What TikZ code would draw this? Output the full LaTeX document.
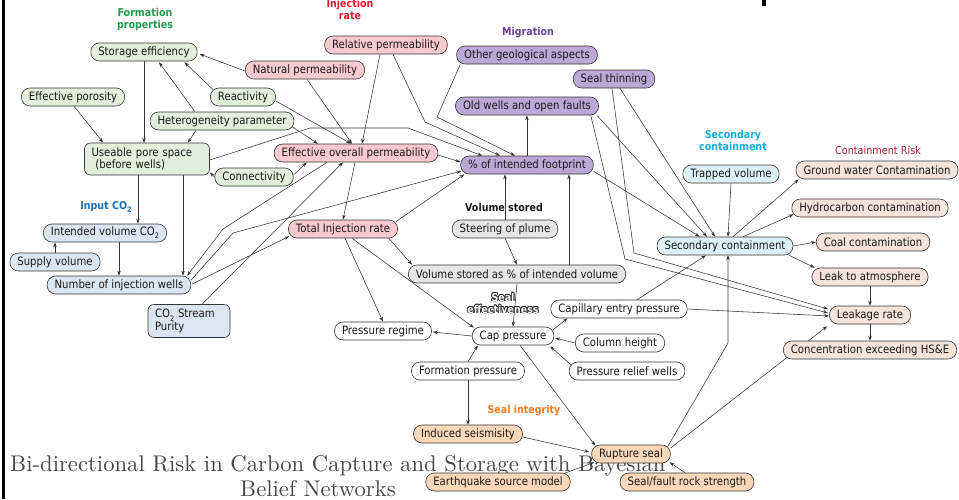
\documentclass[tikz,border=0pt]{standalone}
\usepackage{fontspec}
\usepackage{graphicx}
\usetikzlibrary{arrows.meta,calc,backgrounds}
\newfontfamily\nf[FakeStretch=0.88]{DejaVu Sans}
\newcommand\nodefont{\nf\fontsize{11.5}{12.5}\selectfont}
\newcommand\labfont{\nf\bfseries\fontsize{10.8}{12}\selectfont}
\newcommand\labfontr{\nf\fontsize{11}{12}\selectfont}
\newcommand\subtwo{\raisebox{-0.28em}{\fontsize{7.5}{8}\selectfont 2}}
\definecolor{cform}{HTML}{E2EFDA}
\definecolor{cinj}{HTML}{F8C9CF}
\definecolor{cmig}{HTML}{BCA8D8}
\definecolor{cinp}{HTML}{DCE6F2}
\definecolor{csec}{HTML}{DDF2F8}
\definecolor{cvol}{HTML}{E6E6E6}
\definecolor{crisk}{HTML}{F6E3DA}
\definecolor{cint}{HTML}{FAD7B8}
\definecolor{tform}{HTML}{1BA04C}
\definecolor{tinj}{HTML}{E5182E}
\definecolor{tmig}{HTML}{6B3E9B}
\definecolor{tsec}{HTML}{14AEE0}
\definecolor{tinp}{HTML}{1F6FB2}
\definecolor{tint}{HTML}{F47B20}
\definecolor{trisk}{HTML}{A32638}
\tikzset{
  base/.style={draw=black!80, line width=0.6pt, rounded corners=8.5pt, minimum height=18pt, inner xsep=7.5pt, inner ysep=0pt, font=\nodefont, text=black!90},
  sform/.style={base, fill=cform},
  sinj/.style={base, fill=cinj},
  smig/.style={base, fill=cmig},
  sinput/.style={base, fill=cinp},
  ssec/.style={base, fill=csec},
  svol/.style={base, fill=cvol},
  sseal/.style={base, fill=white},
  sint/.style={base, fill=cint},
  srisk/.style={base, fill=crisk},
  lab/.style={font=\labfont, inner sep=0pt, align=center},
  edg/.style={draw=black!80, line width=0.55pt, -{Stealth[length=5pt,width=3.4pt]}},
}
\begin{document}
\begin{tikzpicture}[x=1pt,y=-1pt]
\useasboundingbox (0,0) rectangle (959,499);
\fill[black] (2,0) rectangle (5,499);
\fill[black] (762,0) rectangle (766,6);

% ---------- nodes
\node[sform] (se) at (144,52) {Storage efficiency};
\node[sform] (ep) at (73,97) {Effective porosity};
\node[sform] (re) at (243,97) {Reactivity};
\node[sform] (hp) at (222,121) {Heterogeneity parameter};
\node[sform, rounded corners=6pt, minimum height=32pt, align=left, text width=111pt, inner xsep=7pt] (ups) at (147,159) {Useable pore space\\\ (before wells)};
\node[sform] (co) at (254,177) {Connectivity};

\node[sinj] (np) at (305,70) {Natural permeability};
\node[sinj] (rp) at (386,45) {Relative permeability};
\node[sinj] (eop) at (356,153) {Effective overall permeability};
\node[sinj] (tir) at (343,229) {Total Injection rate};

\node[smig] (oga) at (527,55) {Other geological aspects};
\node[smig] (st) at (614,79) {Seal thinning};
\node[smig] (ow) at (527,106) {Old wells and open faults};
\node[smig] (pif) at (527,165) {\% of intended footprint};

\node[svol] (sp) at (505,229) {Steering of plume};
\node[svol] (vs) at (517,274) {Volume stored as \% of intended volume};

\node[sseal] (cep) at (619,309) {Capillary entry pressure};
\node[sseal] (pr) at (383,331) {Pressure regime};
\node[sseal] (cp) at (513,336) {Cap pressure};
\node[sseal] (ch) at (620,343) {Column height};
\node[sseal] (fp) at (468,371) {Formation pressure};
\node[sseal] (prw) at (627,371) {Pressure relief wells};

\node[sint] (is) at (468,434) {Induced seismisity};
\node[sint] (rs) at (631,454) {Rupture seal};
\node[sint] (esm) at (498,482) {Earthquake source model};
\node[sint] (sfr) at (687,482) {Seal/fault rock strength};

\node[ssec] (tv) at (731,174) {Trapped volume};
\node[ssec] (sc) at (725,246) {Secondary containment};

\node[srisk] (gw) at (877,170) {Ground water Contamination};
\node[srisk] (hc) at (870,208) {Hydrocarbon contamination};
\node[srisk] (cc) at (873,242) {Coal contamination};
\node[srisk] (la) at (870,277) {Leak to atmosphere};
\node[srisk] (lr) at (870,315) {Leakage rate};
\node[srisk] (ce) at (870,350) {Concentration exceeding HS\&E};

\node[sinput] (iv) at (105,233) {Intended volume CO\subtwo};
\node[sinput] (sv) at (55,262) {Supply volume};
\node[sinput] (niw) at (119,285) {Number of injection wells};
\node[sinput, rounded corners=6pt, minimum height=33pt, align=left, text width=68pt, inner xsep=7pt] (csp) at (189,321) {CO\subtwo\ Stream\\Purity};

% ---------- group labels
\node[lab, text=tform] (lform) at (145,20) {Formation\\properties};
\node[lab, text=tinj] (linj) at (350,9) {Injection\\rate};
\node[lab, text=tmig] (lmig) at (528,33) {Migration};
\node[lab, text=tsec] (lsec) at (733,140) {Secondary\\containment};
\node[lab, font=\labfontr, text=trisk] (lrisk) at (878,150) {Containment Risk};
\node[lab, text=tinp] (linp) at (106,207) {Input CO\subtwo};
\node[lab, text=black!90] (lvol) at (504,207) {Volume stored};
\node[lab, text=tint] (lint) at (524,411) {Seal integrity};
\foreach \dx/\dy [count=\k] in {-0.8/0,0.8/0,0/-0.8,0/0.8,-0.6/-0.6,0.6/0.6,-0.6/0.6,0.6/-0.6}
  \node[lab, text=black!85] (lseo\k) at ($(503,303)+(\dx,\dy)$) {Seal\\effectiveness};
\node[lab, text=white] (lse) at (503,303) {Seal\\effectiveness};

% ---------- background: title and connectors
\begin{pgfonlayer}{background}
\fill[white] (0,0) rectangle (959,499);
\fill[black] (2,0) rectangle (5,499);
\node[anchor=base west, inner sep=0pt, text=black!72] (t1) at (10,471) {\scalebox{2.27}{\rmfamily\fontsize{10}{12}\selectfont Bi-directional Risk in Carbon Capture and Storage with Bayesian}};
\node[anchor=base, inner sep=0pt, text=black!72] (t2) at (318,496) {\scalebox{2.27}{\rmfamily\fontsize{10}{12}\selectfont Belief Networks}};

% formation
\draw[edg] ($(np.west)+(0,1)$) -- ($(se.east)+(2,2)$);
\draw[edg] ($(re.north west)+(3,2)$) -- ($(se.south east)+(-13,1)$);
\draw[edg] ($(hp.north)+(-27,0)$) -- ($(se.south)+(15,1)$);
\draw[edg] (se.south) -- (se.south |- ups.north);
\draw[edg] ($(ep.south)+(1,0)$) -- ($(ups.north west)+(19,0)$);
\draw[edg] ($(hp.south)+(-26,0)$) -- ($(ups.north east)+(-22,0)$);
\draw[edg] (co.west) -- ($(ups.south east)+(0,-3)$);
% injection rate
\draw[edg] ($(re.east)+(0,4)$) -- ($(eop.north)+(-5,0)$);
\draw[edg] ($(np.south)+(2,0)$) -- ($(eop.north)+(-4,0)$);
\draw[edg] ($(rp.south)+(-6,0)$) -- ($(eop.north)+(6,0)$);
\draw[edg] ($(hp.east)+(-3,5)$) -- ($(eop.north west)+(44,0)$);
\draw[edg] ($(co.east)+(0,-2)$) -- ($(eop.south west)+(33,0)$);
\draw[edg] ($(csp.north)+(13,0)$) -- ($(eop.south)+(-13,0)$);
\draw[edg] ($(eop.south)+(-29,0)$) -- (223,229) -- ($(niw.north east)+(-4,0)$);
\draw[edg] ($(niw.east)+(0,-5)$) -- (233,233) -- ($(pif.west)+(1,6)$);
\draw[edg] ($(niw.east)+(1,-1)$) -- ($(tir.south west)+(1,-2)$);
\draw[edg] ($(eop.south)+(-1,0)$) -- (tir.north);
\draw[edg] ($(eop.east)+(0,2)$) -- ($(pif.west)+(0,-3)$);
\draw[edg] ($(ups.east)+(0,1)$) -- (310,128) -- (408,128) -- ($(pif.north west)+(22,0)$);
\draw[edg] ($(rp.south)+(7,0)$) -- (425,122) -- ($(pif.north)+(-27,0)$);
\draw[edg] ($(oga.south west)+(4,0)$) -- (437,117) -- ($(pif.north)+(-12,0)$);
\draw[edg] ($(tir.north east)+(-2,2)$) -- ($(pif.south west)+(4,0)$);
\draw[edg] ($(tir.south east)+(-9,0)$) -- ($(vs.north west)+(4,0)$);
\draw[edg] ($(tir.south)+(2,0)$) -- (pr.north);
\draw[edg] ($(tir.south)+(9,0)$) -- ($(cp.north west)+(2,1)$);
% volume stored
\draw[edg] (sp.south) -- (vs.north);
\draw[edg] (sp.north) -- (sp.north |- pif.south);
\coordinate (vsx) at ($(vs.north)+(52,0)$);
\draw[edg] (vsx) -- (vsx |- pif.south);
\draw[edg] (pif.north) -- (ow.south);
% migration / secondary containment
\draw[edg] ($(pif.south east)+(0,-3)$) -- ($(sc.north west)+(43,0)$);
\draw[edg] ($(ow.south east)+(-1,1)$) -- ($(sc.north)+(-18,0)$);
\draw[edg] ($(st.south)+(6,0)$) -- ($(sc.north)+(-10,0)$);
\draw[edg] (tv.south) -- ($(sc.north)+(3,0)$);
\draw[edg] ($(ow.south east)+(-8,0)$) -- (625,259) -- ($(lr.west)+(-1,-2)$);
\draw[edg] ($(st.south)+(-2,0)$) -- (634,253) -- ($(lr.west)+(-1,-6)$);
\draw[edg] ($(cep.north)+(18,0)$) -- ($(sc.south)+(-19,0)$);
\draw[edg] (cep.east) -- ($(lr.west)+(0,1)$);
\draw[edg] ($(rs.north east)+(-3,2)$) -- (728,343) -- ($(sc.south)+(3,0)$);
\draw[edg] ($(rs.east)+(0,-6)$) -- ($(lr.south west)+(-2,2)$);
% containment risk
\draw[edg] (la.south) -- (lr.north);
\draw[edg] (lr.south) -- (ce.north);
\draw[edg] ($(sc.north)+(8,0)$) -- ($(gw.south west)+(3,0)$);
\draw[edg] ($(sc.north)+(18,0)$) -- ($(hc.south west)+(2,-3)$);
\draw[edg] (sc.east) -- (cc.west);
\draw[edg] ($(sc.south east)+(-4,0)$) -- ($(la.north west)+(3,0)$);
% seal effectiveness
\draw[edg] (vs.south) -- (cp.north);
\draw[edg] (cp.west) -- ($(pr.east)+(1,1)$);
\draw[edg] ($(cp.north east)+(-1,3)$) -- ($(cep.south west)+(17,0)$);
\draw[edg] (ch.west) -- ($(cp.east)+(1,2)$);
\draw[edg] ($(prw.north west)+(2,3)$) -- ($(cp.south east)+(-4,1)$);
\draw[edg] (fp.north) -- ($(cp.south west)+(6,0)$);
\draw[edg] (fp.south) -- (is.north);
\draw[edg] ($(cp.south)+(7,0)$) -- ($(rs.north west)+(4,1)$);
% seal integrity
\draw[edg] ($(is.east)+(0,3)$) -- ($(rs.west)+(-2,-2)$);
\draw[edg] ($(esm.north east)+(-10,2)$) -- ($(rs.south west)+(3,-1)$);
\draw[edg] ($(sfr.north)+(-2,0)$) -- ($(rs.south east)+(-1,-1)$);
% input CO2
\coordinate (u1) at ($(ups.south)+(-9,0)$);
\draw[edg] (u1) -- (u1 |- iv.north);
\coordinate (u2) at ($(ups.south)+(36,0)$);
\draw[edg] (u2) -- (u2 |- niw.north);
\draw[edg] (sv.north) -- (sv.north |- iv.south);
\coordinate (i1) at ($(iv.south)+(14,0)$);
\draw[edg] (i1) -- (i1 |- niw.north);
\end{pgfonlayer}
\end{tikzpicture}
\end{document}
